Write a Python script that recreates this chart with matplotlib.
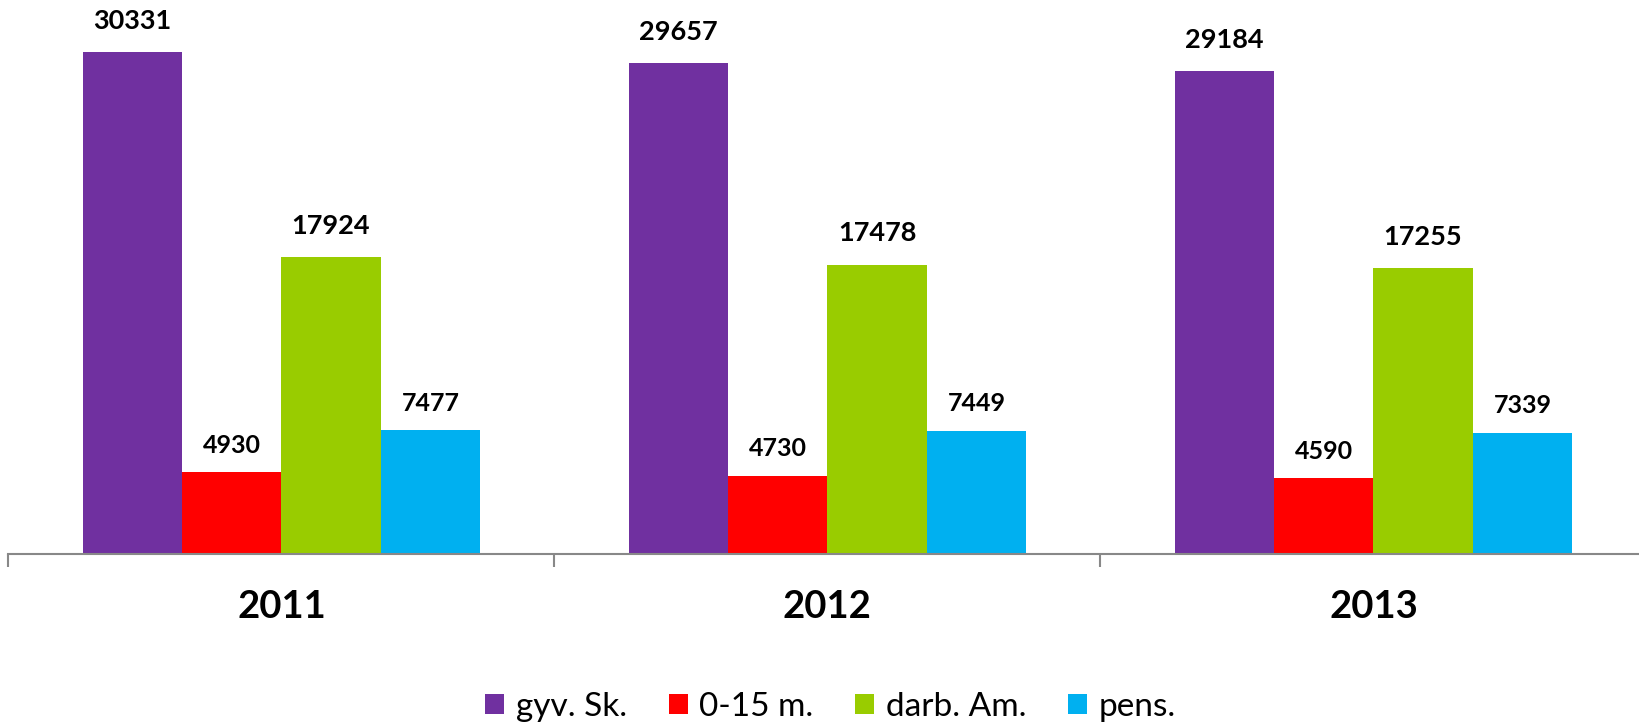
import matplotlib.pyplot as plt
import numpy as np

years = ["2011", "2012", "2013"]
series_names = ["gyv. Sk.", "0-15 m.", "darb. Am.", "pens."]
gyv = [30331, 29657, 29184]
vaikai = [4930, 4730, 4590]
darb = [17924, 17478, 17255]
pens = [7477, 7449, 7339]
colors = ["#7030A0", "#FF0000", "#99CC00", "#00B0F0"]

plt.rcParams['font.family'] = ['Lato', 'DejaVu Sans']

fig = plt.figure(figsize=(16.4, 7.23), dpi=100)
ax = fig.add_axes([8.4 / 1640, 1 - 554 / 723, 1638 / 1640, 554 / 723])

x = np.arange(len(years))
w = 0.182
values = [gyv, vaikai, darb, pens]
label_sizes = [19.5, 18, 19.5, 18]
label_offsets = [14, 11, 14, 11]
for i, (name, vals) in enumerate(zip(series_names, values)):
    pos = x + (i - 1.5) * w
    bars = ax.bar(pos, vals, w, color=colors[i], label=name, zorder=2)
    for b, v in zip(bars, vals):
        ax.annotate(str(v), (b.get_x() + w / 2, v), xytext=(0, label_offsets[i]),
                    textcoords="offset points", ha="center", va="bottom",
                    fontsize=label_sizes[i], fontweight="bold")

ax.set_xlim(-0.5, 2.5)
ax.set_ylim(0, 30331 * 554 / 502)
ax.set_yticks([])
for s in ["top", "right", "left"]:
    ax.spines[s].set_visible(False)
ax.spines["bottom"].set_color("#888888")
ax.spines["bottom"].set_linewidth(1.5)

ax.set_xticks([-0.5, 0.5, 1.5, 2.5])
ax.set_xticklabels([])
ax.tick_params(axis="x", direction="out", length=9, width=1.5, color="#888888")
ax.set_xticks(x, minor=True)
ax.set_xticklabels(years, minor=True, fontsize=27.5, fontweight="bold")
ax.tick_params(axis="x", which="minor", length=0, pad=26)

ax.legend(loc="center", bbox_to_anchor=(0.502, -0.276), ncol=4,
          frameon=False, fontsize=24, handlelength=0.57, handleheight=0.57,
          handletextpad=0.35, columnspacing=1.25)

fig.savefig("out.png", dpi=100)
